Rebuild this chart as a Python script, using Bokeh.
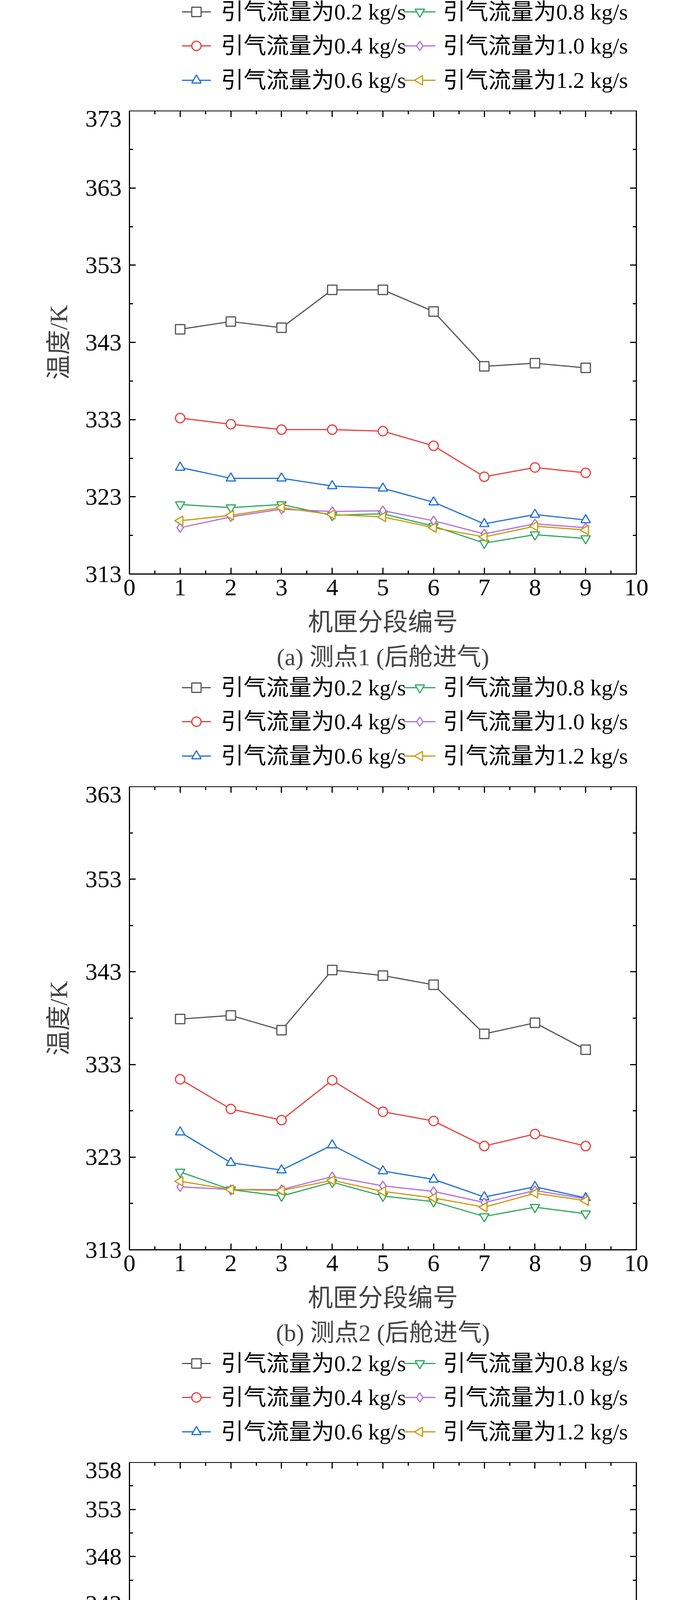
import numpy as np
from bokeh.plotting import figure
from bokeh.models import LinearAxis, FixedTicker, Title, Range1d, CustomJSTickFormatter
from bokeh.layouts import column
from bokeh.core.properties import value
from bokeh.embed import file_html
from bokeh.resources import INLINE

x = [1, 2, 3, 4, 5, 6, 7, 8, 9]
labels = ["引气流量为0.2 kg/s", "引气流量为0.4 kg/s", "引气流量为0.6 kg/s",
          "引气流量为0.8 kg/s", "引气流量为1.0 kg/s", "引气流量为1.2 kg/s"]

a_02 = [344.7, 345.7, 344.9, 349.8, 349.8, 347.0, 339.9, 340.3, 339.7]
a_04 = [333.2, 332.4, 331.7, 331.7, 331.5, 329.6, 325.6, 326.8, 326.1]
a_06 = [326.8, 325.4, 325.4, 324.4, 324.1, 322.3, 319.5, 320.7, 320.0]
a_08 = [322.0, 321.6, 322.0, 320.6, 320.8, 319.2, 317.0, 318.1, 317.6]
a_10 = [319.0, 320.4, 321.4, 321.1, 321.2, 319.9, 318.2, 319.5, 319.0]
a_12 = [319.9, 320.6, 321.6, 320.7, 320.4, 319.0, 317.8, 319.2, 318.7]

b_02 = [337.9, 338.3, 336.7, 343.2, 342.6, 341.6, 336.3, 337.5, 334.6]
b_04 = [331.4, 328.2, 327.0, 331.3, 327.9, 326.9, 324.2, 325.5, 324.2]
b_06 = [325.7, 322.4, 321.6, 324.3, 321.5, 320.6, 318.7, 319.8, 318.6]
b_08 = [321.4, 319.5, 318.8, 320.3, 318.8, 318.2, 316.6, 317.6, 316.9]
b_10 = [319.8, 319.5, 319.5, 320.9, 319.9, 319.3, 318.1, 319.4, 318.5]
b_12 = [320.4, 319.5, 319.4, 320.5, 319.3, 318.6, 317.6, 319.1, 318.3]

c_02 = [335.7, 334.8, 330.4, 339.8, 337.4, 335.4, 331.2, 331.5, 333.0]
c_04 = [329.6, 328.5, 324.1, 329.0, 327.7, 325.8, 322.4, 322.9, 323.8]
c_06 = [324.4, 323.5, 319.5, 322.8, 321.9, 320.0, 317.8, 318.3, 318.7]
c_08 = [320.7, 320.3, 316.7, 319.6, 319.4, 317.6, 316.1, 316.6, 316.9]
c_10 = [319.4, 319.6, 316.4, 320.6, 320.6, 319.2, 317.8, 318.3, 318.6]
c_12 = [320.0, 319.9, 316.9, 320.0, 320.1, 318.9, 317.4, 318.2, 318.5]

x_ticks = [0, 1, 2, 3, 4, 5, 6, 7, 8, 9, 10]
a_yticks = [313, 323, 333, 343, 353, 363, 373]
b_yticks = [313, 323, 333, 343, 353, 363]
c_yticks = [313, 318, 323, 328, 333, 338, 343, 348, 353, 358]

colors = ["#555555", "#e8403e", "#1f6fd6", "#2ea860", "#b06fe0", "#c9980a"]
markers = ["square", "circle", "triangle", "inverted_triangle", "diamond", "triangle"]
angles = [0, 0, 0, 0, 0, np.pi / 2]
FONT = "Liberation Serif, Noto Sans CJK SC"
W = 1756
LEG_H = 283


def style_axis(ax, show_labels, ticks, minors):
    ax.ticker = FixedTicker(ticks=ticks, minor_ticks=minors)
    ax.axis_line_width = 3
    ax.major_tick_line_width = 3
    ax.minor_tick_line_width = 3
    ax.major_tick_in = 16
    ax.major_tick_out = 0
    ax.minor_tick_in = 9
    ax.minor_tick_out = 0
    ax.major_label_text_font = FONT
    ax.major_label_text_font_size = "62px"
    ax.major_label_text_color = "black"
    ax.axis_label_text_font = FONT
    ax.axis_label_text_font_size = "64px"
    ax.axis_label_text_font_style = "normal"
    if not show_labels:
        ax.formatter = CustomJSTickFormatter(code="return ''")
        ax.major_label_standoff = 0


def legend_fig():
    lf = figure(width=W, height=LEG_H, output_backend="svg", toolbar_location=None,
                x_range=Range1d(0, W), y_range=Range1d(0, LEG_H),
                min_border=0)
    lf.axis.visible = False
    lf.grid.visible = False
    lf.outline_line_color = None
    rows = [LEG_H - 30, LEG_H - 117, LEG_H - 205]
    cols = [(182, 282, 317), (952, 1060, 1086)]
    for i in range(6):
        cx = cols[i // 3]
        ry = rows[i % 3]
        lf.line([cx[0], cx[1]], [ry, ry], line_color=colors[i], line_width=3)
        lf.scatter([(cx[0] + cx[1]) / 2], [ry], marker=markers[i], size=24,
                   angle=angles[i], line_color=colors[i], fill_color="white", line_width=3)
        lf.text([cx[2]], [ry], text=[labels[i]], text_font=value(FONT),
                text_font_size="58px", text_baseline="middle", text_color="black")
    return lf


def panel(series, yticks, caption, height):
    ymin, ymax = yticks[0], yticks[-1]
    step = yticks[1] - yticks[0]
    p = figure(width=W, height=height, output_backend="svg", toolbar_location=None,
               x_range=Range1d(0, 10), y_range=Range1d(ymin, ymax),
               min_border_left=331, min_border_right=127, min_border_top=0,
               min_border_bottom=10)
    p.grid.visible = False
    p.outline_line_color = "black"
    p.outline_line_width = 3
    xminor = [i * 0.5 for i in range(21)]
    yminor = list(np.arange(ymin, ymax + 0.01, step / 2.0))
    style_axis(p.xaxis[0], True, x_ticks, xminor)
    style_axis(p.yaxis[0], True, yticks, yminor)
    p.xaxis[0].axis_label = "机匣分段编号"
    p.yaxis[0].axis_label = "温度/K"
    p.xaxis[0].major_label_standoff = 14
    p.xaxis[0].axis_label_standoff = 30
    p.yaxis[0].major_label_standoff = 20
    p.yaxis[0].axis_label_standoff = 30
    top = LinearAxis()
    right = LinearAxis()
    style_axis(top, False, x_ticks, xminor)
    style_axis(right, False, yticks, yminor)
    p.add_layout(top, "above")
    p.add_layout(right, "right")
    for i, ys in enumerate(series):
        p.line(x, ys, line_color=colors[i], line_width=3)
        p.scatter(x, ys, marker=markers[i], size=24, angle=angles[i],
                  line_color=colors[i], fill_color="white", line_width=3)
    t = Title(text=caption, align="center", text_font=FONT, text_font_size="62px",
              text_font_style="normal", standoff=30)
    p.add_layout(t, "below")
    return p


pa = panel([a_02, a_04, a_06, a_08, a_10, a_12], a_yticks, "(a) 测点1 (后舱进气)", 1730 - LEG_H)
pb = panel([b_02, b_04, b_06, b_08, b_10, b_12], b_yticks, "(b) 测点2 (后舱进气)", 1730 - LEG_H)
pc = panel([c_02, c_04, c_06, c_08, c_10, c_12], c_yticks, "(c) 测点3 (后舱进气)", 1630 - LEG_H)

layout = column(legend_fig(), pa, legend_fig(), pb, legend_fig(), pc, spacing=0)
open("out.html", "w").write(file_html(layout, INLINE))
